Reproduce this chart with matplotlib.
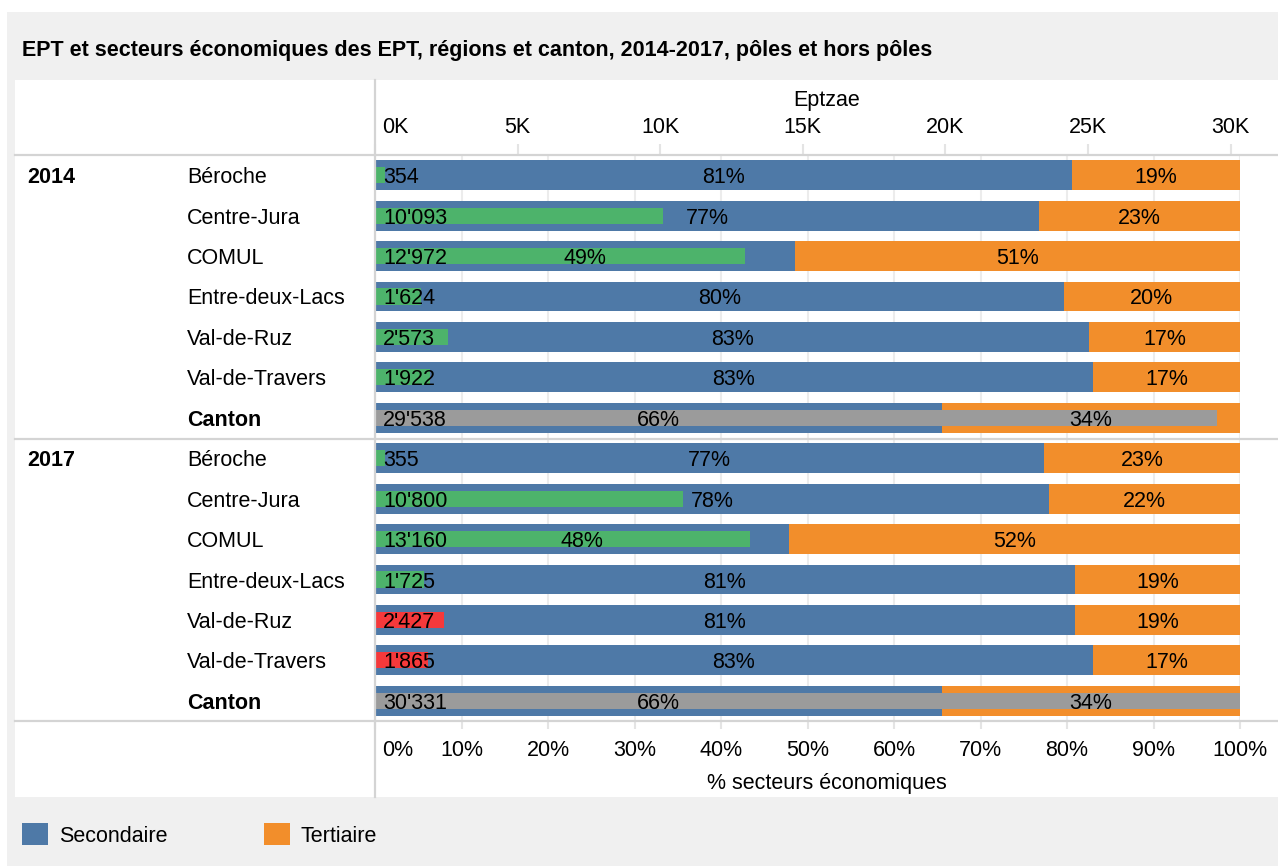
import matplotlib
matplotlib.use('Agg')
import matplotlib.pyplot as plt
from matplotlib.patches import Rectangle, Patch
from matplotlib.lines import Line2D
from matplotlib.transforms import blended_transform_factory, ScaledTranslation

plt.rcParams['font.family'] = ['Liberation Sans Narrow', 'Liberation Sans', 'DejaVu Sans']

# --- data ---------------------------------------------------------------
years = ['2014', '2017']
regions = ['Béroche', 'Centre-Jura', 'COMUL', 'Entre-deux-Lacs',
           'Val-de-Ruz', 'Val-de-Travers', 'Canton']
ept_2014 = [354, 10093, 12972, 1624, 2573, 1922, 29538]
ept_2017 = [355, 10800, 13160, 1725, 2427, 1865, 30331]
sec_2014 = [80.6, 76.8, 48.6, 79.6, 82.6, 83.0, 65.5]
ter_2014 = [19.4, 23.2, 51.4, 20.4, 17.4, 17.0, 34.5]
sec_2017 = [77.3, 77.9, 47.9, 80.9, 80.9, 83.0, 65.5]
ter_2017 = [22.7, 22.1, 52.1, 19.1, 19.1, 17.0, 34.5]
pct_ticks = list(range(0, 101, 10))
ept_ticks = list(range(0, 30001, 5000))

BLUE = '#4e79a7'
ORANGE = '#f28e2b'
GREEN = '#4db36b'
RED = '#f5393b'
GREY = '#9b9b9b'
PANEL = '#f0f0f0'
RULE = '#d4d4d4'
GRID = '#ececec'
FS = 15.5

W, H = 1278, 866
fig = plt.figure(figsize=(W / 100, H / 100), dpi=100, facecolor='white')


def fx(px):
    return px / W


def fy(py):
    return 1 - py / H


def box(x0, y0, x1, y1):
    return [fx(x0), fy(y1), (x1 - x0) / W, (y1 - y0) / H]


# background panels
fig.add_artist(Rectangle((fx(7), 0), 1 - fx(7), fy(12), transform=fig.transFigure,
                         facecolor=PANEL, edgecolor='none', zorder=-10))
fig.add_artist(Rectangle((fx(15), fy(797)), 1 - fx(15), fy(80) - fy(797),
                         transform=fig.transFigure, facecolor='white',
                         edgecolor='none', zorder=-9))

fig.text(fx(22), fy(48), 'EPT et secteurs économiques des EPT, régions et canton, '
         '2014-2017, pôles et hors pôles', fontsize=FS, fontweight='bold',
         ha='left', va='center_baseline')

# rows: one per (year, region)
rows = []
for yi, year in enumerate(years):
    ept = ept_2014 if yi == 0 else ept_2017
    sec = sec_2014 if yi == 0 else sec_2017
    ter = ter_2014 if yi == 0 else ter_2017
    for ri, reg in enumerate(regions):
        if reg == 'Canton':
            col = GREY
        elif yi == 0 or ept_2017[ri] >= ept_2014[ri]:
            col = GREEN
        else:
            col = RED
        rows.append((year, reg, ept[ri], sec[ri], ter[ri], col))

n = len(rows)
ypos = [i + 0.5 for i in range(n)]

ax = fig.add_axes(box(375, 155, 1240, 721))
ax.set_xlim(0, 100)
ax.set_ylim(n, 0)
ax.set_facecolor('none')
for s in ax.spines.values():
    s.set_visible(False)
ax.set_yticks([])
ax.set_xticks(pct_ticks)
ax.set_xticklabels([f'{t}%' for t in pct_ticks], fontsize=FS)
ax.tick_params(axis='x', length=6, width=1.5, color='#e4e4e4', pad=8)
ax.grid(axis='x', color=GRID, linewidth=1.5, zorder=0)
ax.set_axisbelow(True)

sec_vals = [r[3] for r in rows]
ter_vals = [r[4] for r in rows]
ax.barh(ypos, sec_vals, height=0.74, color=BLUE, zorder=2)
ax.barh(ypos, ter_vals, left=sec_vals, height=0.74, color=ORANGE, zorder=2)

ax2 = ax.twiny()
ax2.set_xlim(0, max(ept_2014 + ept_2017))
for s in ax2.spines.values():
    s.set_visible(False)
ax2.set_xticks(ept_ticks)
ax2.set_xticklabels([f'{t // 1000}K' for t in ept_ticks], fontsize=FS)
ax2.tick_params(axis='x', length=8, width=1.5, color='#e4e4e4', pad=4)
ept_vals = [r[2] for r in rows]
ax2.barh(ypos, ept_vals, height=0.40, color=[r[5] for r in rows], zorder=3)

# value labels go on the top axes so they sit above every bar
for y, (year, reg, ept, sec, ter, col) in zip(ypos, rows):
    ax2.annotate(f'{ept:,}'.replace(',', "'"), (0, y), xytext=(6, 0),
                 textcoords='offset points', ha='left', va='center_baseline',
                 fontsize=FS, zorder=5)
    ax2.text(sec / 2, y, f'{sec:.0f}%', transform=ax.transData, ha='center',
             va='center_baseline', fontsize=FS, zorder=5)
    ax2.text(sec + ter / 2, y, f'{ter:.0f}%', transform=ax.transData, ha='center',
             va='center_baseline', fontsize=FS, zorder=5)

# first tick labels sit just right of the origin
for a in (ax, ax2):
    lbl = a.get_xticklabels()[0]
    lbl.set_ha('left')
    lbl.set_transform(lbl.get_transform() + ScaledTranslation(5 / 72, 0, fig.dpi_scale_trans))

ax2.set_xlabel('Eptzae', fontsize=FS)
ax2.xaxis.set_label_coords((827 - 375) / 865, (155 - 98) / 566 + 1)
ax2.xaxis.label.set_va('center_baseline')
ax.set_xlabel('% secteurs économiques', fontsize=FS)
ax.xaxis.set_label_coords((827 - 375) / 865, (721 - 781) / 566)
ax.xaxis.label.set_va('center_baseline')

# row labels on the left
lab_tr = blended_transform_factory(fig.transFigure, ax.transData)
for i, (year, reg, *_rest) in enumerate(rows):
    bold = reg == 'Canton'
    ax.text(fx(187), ypos[i], reg, transform=lab_tr, ha='left', va='center_baseline',
            fontsize=FS, fontweight='bold' if bold else 'normal', clip_on=False)
    if i % len(regions) == 0:
        ax.text(fx(27), ypos[i], year, transform=lab_tr, ha='left', va='center_baseline',
                fontsize=FS, fontweight='bold', clip_on=False)

# table rules
for yy in (155, 439, 721):
    fig.add_artist(Line2D([fx(15), 1], [fy(yy), fy(yy)], transform=fig.transFigure,
                          color=RULE, linewidth=1.6))
fig.add_artist(Line2D([fx(375), fx(375)], [fy(80), fy(797)], transform=fig.transFigure,
                      color=RULE, linewidth=1.6))

handles = [Patch(facecolor=BLUE, label='Secondaire'),
           Patch(facecolor=ORANGE, label='Tertiaire')]
fig.legend(handles=handles, loc='center left', bbox_to_anchor=(fx(22), fy(835)),
           ncol=2, frameon=False, fontsize=FS, handlelength=1.2, handleheight=1.2,
           handletextpad=0.5, columnspacing=4.5, borderaxespad=0, borderpad=0)

fig.savefig('out.png', dpi=100, facecolor=fig.get_facecolor())
